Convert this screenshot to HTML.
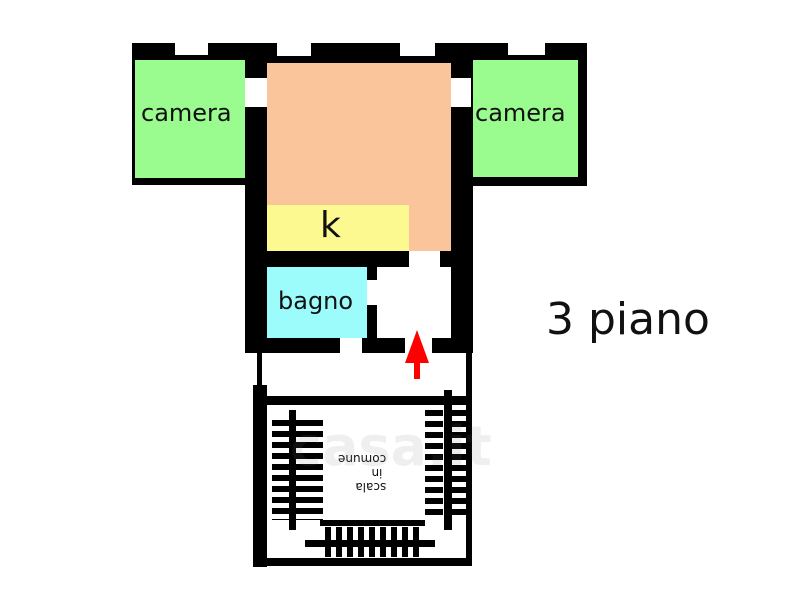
<!DOCTYPE html>
<html><head><style>
body{margin:0;width:800px;height:596px;background:#fff;position:relative;overflow:hidden;font-family:"DejaVu Sans","Liberation Sans",sans-serif}
div{position:absolute}
.b{background:#000}.w{background:#fff}
.t{color:#111;white-space:nowrap}
.tr{background:repeating-linear-gradient(to bottom,#000 0 6px,#fff 6px 11px)}
.tc{background:repeating-linear-gradient(to right,#000 0 6px,#fff 6px 11px)}
</style></head><body>
<div class="b" style="left:132px;top:43px;width:455px;height:18px"></div>
<div class="w" style="left:175px;top:43px;width:33px;height:13px"></div>
<div class="w" style="left:277px;top:43px;width:34px;height:13px"></div>
<div class="w" style="left:400px;top:43px;width:35px;height:13px"></div>
<div class="w" style="left:508px;top:43px;width:37px;height:13px"></div>
<div class="b" style="left:132px;top:55px;width:135px;height:130px"></div>
<div style="left:135px;top:60px;width:110px;height:118px;background:#9afb8f"></div>
<div class="t" style="left:141px;top:99px;font-size:24px">camera</div>
<div class="b" style="left:451px;top:55px;width:136px;height:131px"></div>
<div style="left:471px;top:60px;width:107px;height:117px;background:#9afb8f"></div>
<div class="t" style="left:475px;top:99px;font-size:24px">camera</div>
<div class="b" style="left:245px;top:60px;width:228px;height:293px"></div>
<div style="left:267px;top:63px;width:184px;height:188px;background:#fac59a"></div>
<div class="w" style="left:245px;top:78px;width:22px;height:29px"></div>
<div class="w" style="left:451px;top:78px;width:20px;height:29px"></div>
<div style="left:267px;top:205px;width:142px;height:46px;background:#fcf991"></div>
<div class="t" style="left:320px;top:205px;font-size:36px">k</div>
<div class="w" style="left:409px;top:251px;width:31px;height:16px"></div>
<div style="left:267px;top:267px;width:100px;height:71px;background:#9cfcfc"></div>
<div class="t" style="left:278px;top:287px;font-size:24px">bagno</div>
<div class="w" style="left:377px;top:267px;width:74px;height:71px"></div>
<div class="w" style="left:367px;top:280px;width:10px;height:25px"></div>
<div class="w" style="left:340px;top:338px;width:22px;height:15px"></div>
<div class="w" style="left:405px;top:338px;width:27px;height:15px"></div>
<div class="b" style="left:257px;top:353px;width:5px;height:35px"></div>
<div class="b" style="left:466px;top:353px;width:6px;height:35px"></div>
<div class="b" style="left:253px;top:385px;width:14px;height:182px"></div>
<div class="b" style="left:265px;top:396px;width:207px;height:9px"></div>
<div class="b" style="left:265px;top:558px;width:207px;height:8px"></div>
<div class="b" style="left:466px;top:385px;width:6px;height:180px"></div>
<div class="tr" style="left:272px;top:420px;width:18px;height:100px"></div>
<div class="tr" style="left:295px;top:420px;width:28px;height:100px"></div>
<div class="b" style="left:289px;top:410px;width:7px;height:120px"></div>
<div class="tr" style="left:425px;top:410px;width:18px;height:110px"></div>
<div class="tr" style="left:452px;top:410px;width:14px;height:110px"></div>
<div class="b" style="left:444px;top:390px;width:8px;height:140px"></div>
<div class="tc" style="left:325px;top:527px;width:95px;height:30px"></div>
<div class="b" style="left:305px;top:540px;width:130px;height:7px"></div>
<div class="b" style="left:320px;top:520px;width:105px;height:6px"></div>
<div class="t" style="left:338px;top:452px;font-size:12px;transform:rotate(180deg)">scala<br>&nbsp;in<br>comune</div>
<div class="t" style="left:290px;top:415px;font-size:54px;color:rgba(120,120,120,.12);font-weight:bold">casa.it</div>
<div style="left:414px;top:355px;width:6px;height:24px;background:#f00"></div>
<div style="left:405px;top:330px;width:0;height:0;border-left:12px solid transparent;border-right:12px solid transparent;border-bottom:33px solid #f00"></div>
<div class="t" style="left:546px;top:294px;font-size:44px">3 piano</div>
</body></html>
